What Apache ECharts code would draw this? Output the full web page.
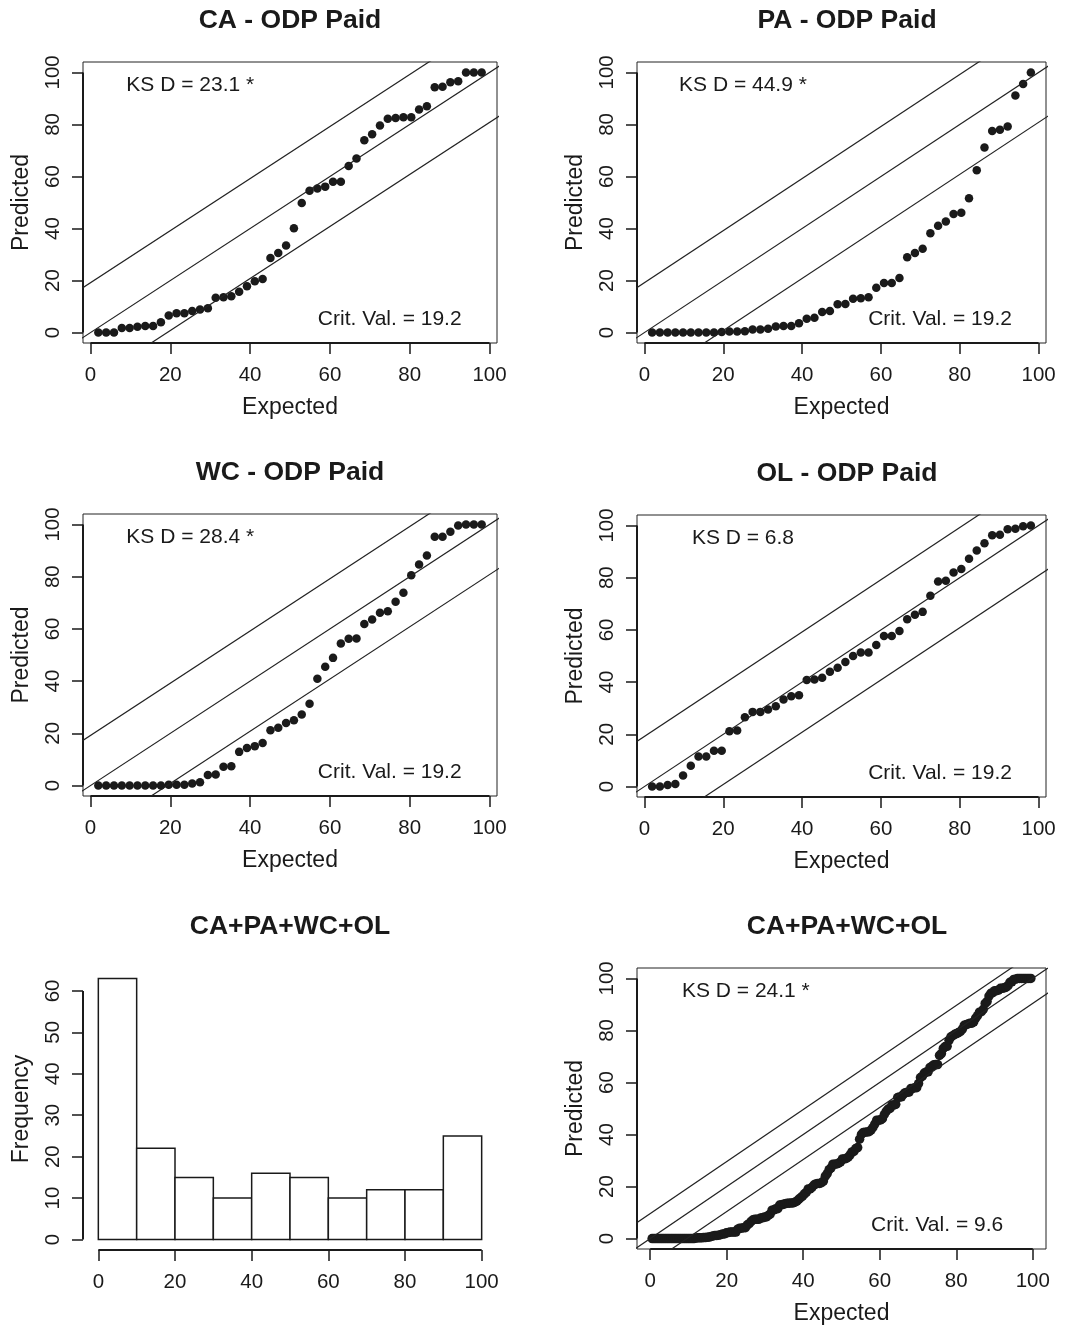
<!DOCTYPE html>
<html><head><meta charset="utf-8">
<script src="https://cdn.jsdelivr.net/npm/echarts@6/dist/echarts.min.js"></script>
<style>html,body{margin:0;padding:0;background:#fff}#c{width:1070px;height:1327px}</style>
</head><body><div id="c"></div>
<script>
// ---------- data ----------
const panelTitles = ['CA - ODP Paid', 'PA - ODP Paid', 'WC - ODP Paid', 'OL - ODP Paid', 'CA+PA+WC+OL', 'CA+PA+WC+OL'];
const caPredicted = [0,0,0,1.8,1.8,2.2,2.5,2.5,4,6.6,7.4,7.4,8.3,8.9,9.4,13.4,13.6,14,15.7,17.8,19.7,20.6,28.7,30.6,33.5,40.1,49.8,54.5,55.4,56.1,58,58,64,66.9,73.9,76.2,79.6,82.2,82.5,82.8,82.8,85.7,87,94.3,94.5,96.2,96.6,100,100,100];
const paPredicted = [0,0,0,0,0,0,0,0,0,0.2,0.4,0.4,0.5,1.2,1.2,1.5,2.3,2.5,2.5,3.6,5.3,5.7,7.9,8.3,10.9,11,13,13.2,13.6,17.2,19.1,19.1,21,29,30.6,32.2,38.2,41.1,42.7,45.6,46.1,51.6,62.4,71.1,77.5,78,79.2,91.1,95.5,100];
const wcPredicted = [0,0,0,0,0,0,0,0,0,0.3,0.3,0.3,0.8,1.3,4,4.2,7.2,7.4,12.9,14.4,15.1,16.3,21.2,22.1,24,25,27.2,31.3,40.9,45.5,48.9,54.4,56.2,56.3,61.9,63.6,66.2,66.8,70.4,73.8,80.5,84.7,88.1,95.3,95.3,97.2,99.6,100,100,100];
const olPredicted = [0,0,0.6,1,4.2,8,11.5,11.5,13.7,13.7,21.2,21.5,26.5,28.6,28.6,29.5,30.8,33.3,34.6,35,40.8,41,41.7,44,45.5,47.7,50,51.3,51.3,54.2,57.7,57.7,59.6,64.1,65.8,66.9,73.1,78.5,78.8,82,83.3,87.2,90.4,93.2,96.2,96.4,98.5,98.7,99.7,100];
const ksLabels = ['KS D = 23.1 *', 'KS D = 44.9 *', 'KS D = 28.4 *', 'KS D = 6.8', 'KS D = 24.1 *'];
const critValues = [19.2, 19.2, 19.2, 19.2, 9.6];
const histBreaks = [0,10,20,30,40,50,60,70,80,90,100];
const histCounts = [63,22,15,10,16,15,10,12,12,25];
const pctTicks = [0,20,40,60,80,100];
const freqTicks = [0,10,20,30,40,50,60];

// pooled sample for the combined panel
const pooledPredicted = caPredicted.concat(paPredicted, wcPredicted, olPredicted).sort((a, b) => a - b);
const ppSets = [caPredicted, paPredicted, wcPredicted, olPredicted, pooledPredicted];

// ---------- layout / style ----------
const FF = "'Liberation Sans', Arial, Helvetica, sans-serif";
const INK = '#1a1a1a';
const grids = [
  {left: 83,  top: 62,  width: 414, height: 281},
  {left: 637, top: 62,  width: 409, height: 281},
  {left: 83,  top: 514, width: 414, height: 282},
  {left: 637, top: 515, width: 409, height: 282},
  {left: 83,  top: 968, width: 414, height: 282},
  {left: 637, top: 968, width: 409, height: 281}
];
const titleCenterX = [290, 847];
const ppGrid = [0, 1, 2, 3, 5];  // grid index of each P-P panel

function expected(n) { const a = []; for (let i = 1; i <= n; i++) a.push(i / (n + 1) * 100); return a; }
function pad(lo, hi) { const d = (hi - lo) * 0.04; return [lo - d, hi + d]; }

const xAxes = [], yAxes = [], series = [], ranges = [];
function axisBase(gi, min, max, ticks) {
  return {
    type: 'value', gridIndex: gi, min: min, max: max,
    axisLine: {show: false, onZero: false}, splitLine: {show: false},
    axisTick: {show: true, inside: false, length: 11, customValues: ticks, lineStyle: {color: INK, width: 1.5}},
    axisLabel: {customValues: ticks, fontSize: 20.5, color: INK, fontFamily: FF},
    nameLocation: 'middle', nameTextStyle: {fontSize: 23, color: INK, fontFamily: FF}
  };
}

for (let k = 0; k < 6; k++) {
  let xr, yr;
  if (k === 4) {
    xr = pad(histBreaks[0], histBreaks[histBreaks.length - 1]);
    yr = pad(0, Math.max.apply(null, histCounts));
  } else {
    const pi = ppGrid.indexOf(k);
    const ex = expected(ppSets[pi].length);
    xr = pad(ex[0], ex[ex.length - 1]);
    yr = pad(0, 100);
  }
  ranges[k] = {xr, yr};
  const xa = axisBase(k, xr[0], xr[1], pctTicks);
  xa.axisLabel.margin = 22; xa.nameGap = 53;
  xa.name = k === 4 ? '' : 'Expected';
  const ya = axisBase(k, yr[0], yr[1], k === 4 ? freqTicks : pctTicks);
  ya.axisLabel.rotate = 90; ya.axisLabel.margin = 19; ya.nameGap = 50;
  ya.name = k === 4 ? 'Frequency' : 'Predicted';
  xAxes.push(xa); yAxes.push(ya);
}

// P-P panels
ppSets.forEach((vals, pi) => {
  const gi = ppGrid[pi];
  const ex = expected(vals.length);
  const xr = ranges[gi].xr;
  const c = critValues[pi];
  [c, 0, -c].forEach(off => {
    series.push({
      type: 'line', xAxisIndex: gi, yAxisIndex: gi, symbol: 'none', silent: true, clip: true,
      lineStyle: {color: '#222', width: 1.2},
      data: [[xr[0] - 5, xr[0] - 5 + off], [xr[1] + 5, xr[1] + 5 + off]]
    });
  });
  series.push({
    type: 'scatter', xAxisIndex: gi, yAxisIndex: gi, silent: true,
    symbol: 'circle', symbolSize: gi === 5 ? 9.5 : 8.5,
    itemStyle: {color: INK, opacity: 1},
    data: vals.map((v, i) => [ex[i], v])
  });
});

// histogram
series.push({
  type: 'custom', xAxisIndex: 4, yAxisIndex: 4, silent: true,
  encode: {x: [0, 1], y: 2},
  data: histCounts.map((c, i) => [histBreaks[i], histBreaks[i + 1], c]),
  renderItem: function (params, api) {
    const p0 = api.coord([api.value(0), 0]);
    const p1 = api.coord([api.value(1), api.value(2)]);
    return {type: 'rect', shape: {x: p0[0], y: p1[1], width: p1[0] - p0[0], height: p0[1] - p1[1]},
            style: {fill: '#fff', stroke: INK, lineWidth: 1.5}};
  }
});

const titles = panelTitles.map((t, k) => ({
  text: t, left: titleCenterX[k % 2], top: grids[k].top - 55, textAlign: 'center', padding: 0,
  textStyle: {fontSize: 26.5, fontWeight: 'bold', color: INK, fontFamily: FF}
}));

const chart = echarts.init(document.getElementById('c'), null, {renderer: 'canvas'});
chart.setOption({
  animation: false,
  backgroundColor: '#fff',
  title: titles,
  grid: grids.map((g, k) => Object.assign({show: k !== 4, borderColor: '#222', borderWidth: 1, backgroundColor: 'transparent', containLabel: false}, g)),
  xAxis: xAxes, yAxis: yAxes, series: series
});

// R-style axis lines (spanning first to last tick) and text annotations
const gfx = [];
function px(k, pt) { return chart.convertToPixel({xAxisIndex: k, yAxisIndex: k}, pt); }
for (let k = 0; k < 6; k++) {
  const {xr, yr} = ranges[k];
  const yT = k === 4 ? freqTicks : pctTicks;
  const a = px(k, [xr[0], yT[0]]), b = px(k, [xr[0], yT[yT.length - 1]]);
  const c = px(k, [pctTicks[0], yr[0]]), d = px(k, [pctTicks[pctTicks.length - 1], yr[0]]);
  gfx.push({type: 'line', silent: true, shape: {x1: a[0], y1: a[1], x2: b[0], y2: b[1]}, style: {stroke: INK, lineWidth: 2}});
  gfx.push({type: 'line', silent: true, shape: {x1: c[0], y1: c[1], x2: d[0], y2: d[1]}, style: {stroke: INK, lineWidth: 2}});
}
ppGrid.forEach((gi, pi) => {
  const p = px(gi, [25, 95]), q = px(gi, [75, 5]);
  [[p, ksLabels[pi]], [q, 'Crit. Val. = ' + critValues[pi]]].forEach(([pt, txt]) => {
    gfx.push({type: 'text', silent: true, x: pt[0], y: pt[1],
      style: {text: txt, fontSize: 21, fontFamily: FF, fill: INK, align: 'center', verticalAlign: 'middle', textAlign: 'center', textVerticalAlign: 'middle'}});
  });
});
chart.setOption({graphic: gfx});
</script></body></html>
